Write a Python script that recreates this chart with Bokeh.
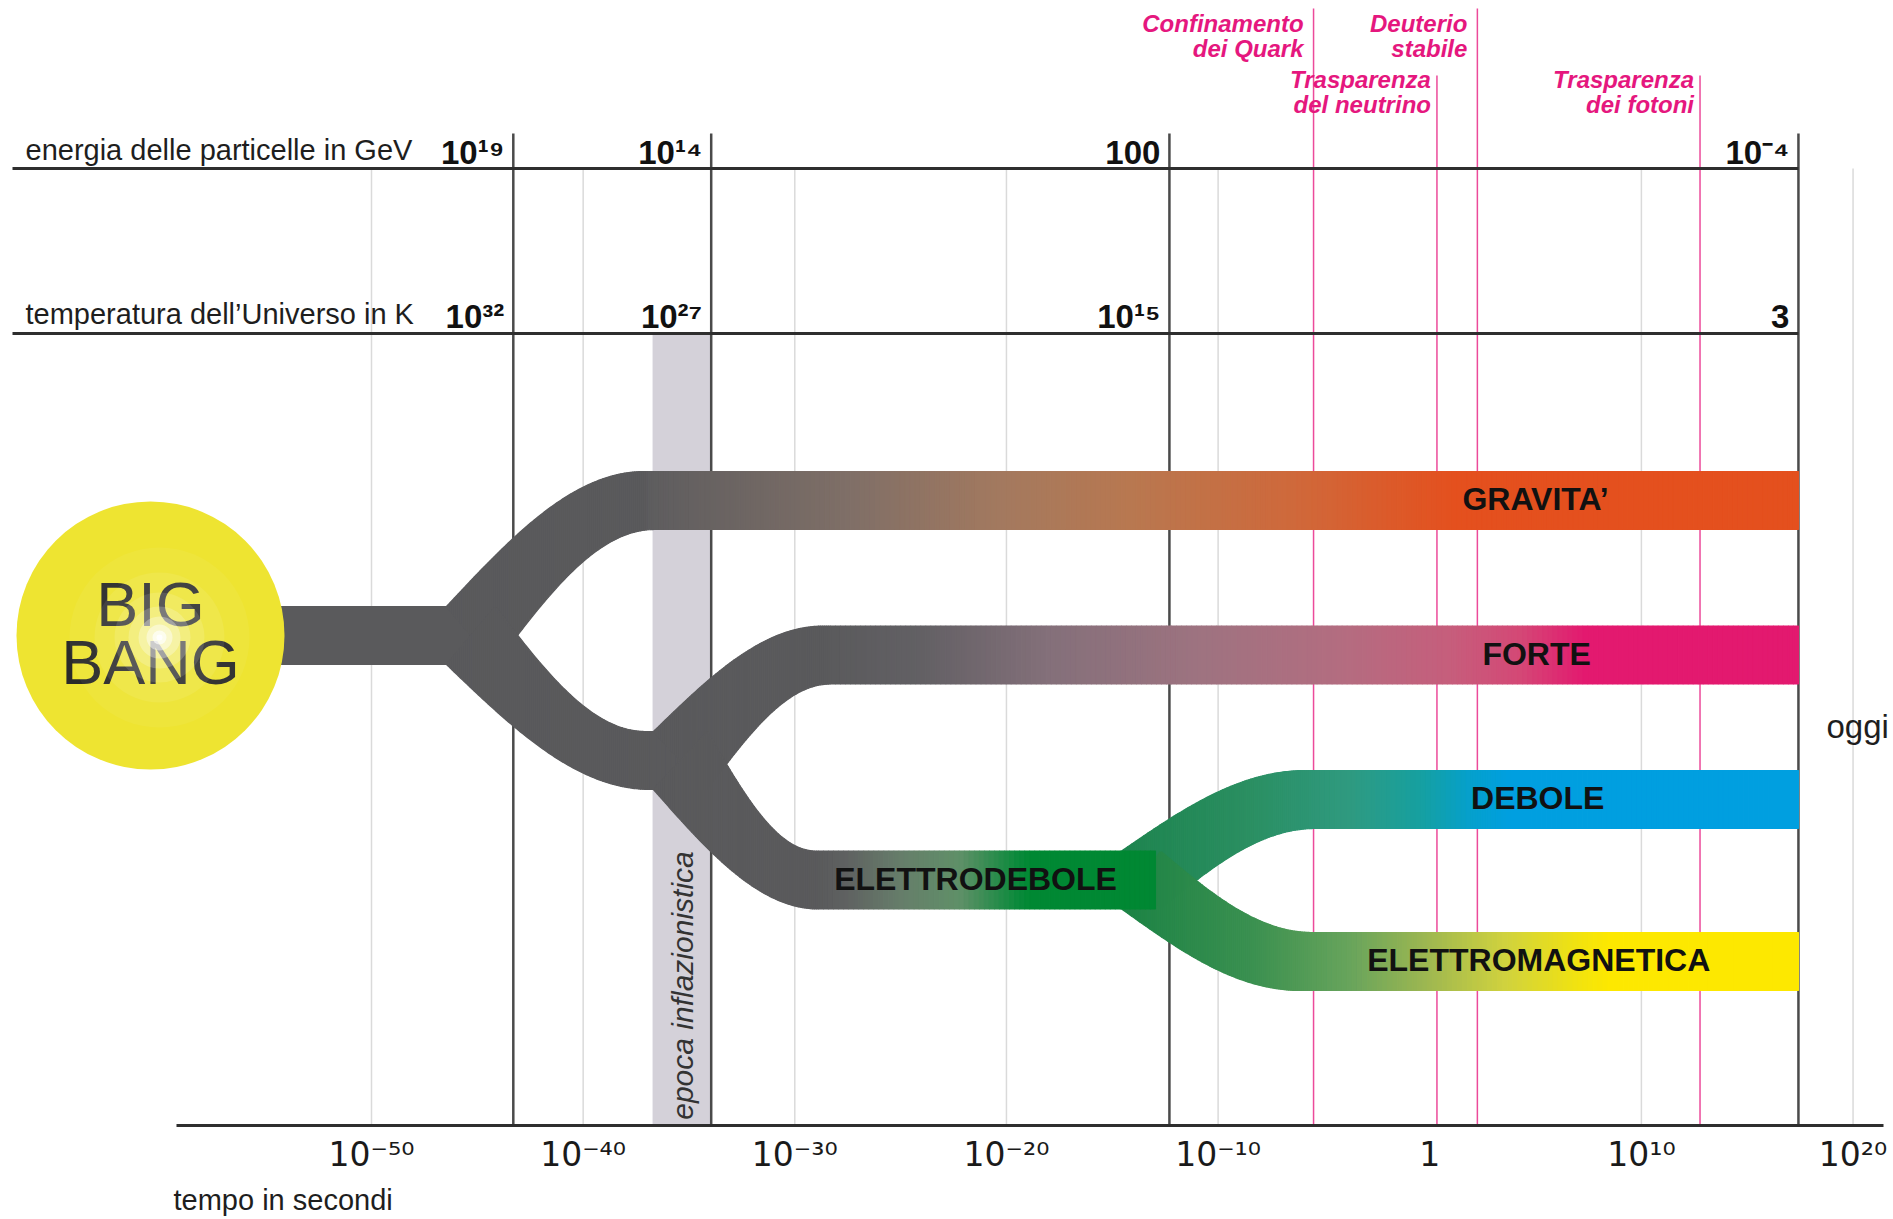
import numpy as np
from bokeh.plotting import figure
from bokeh.models import Range1d, FixedTicker, Title
from bokeh.core.properties import value
from bokeh.embed import file_html
from bokeh.resources import INLINE

FONT = "Liberation Sans"
AXFONT = "DejaVu Sans"

# ---------------- data (time as log10 of seconds) ----------------
tick_lt = [-50, -40, -30, -20, -10, 0, 10, 20]
tick_labels = ["10⁻⁵⁰", "10⁻⁴⁰", "10⁻³⁰", "10⁻²⁰", "10⁻¹⁰", "1", "10¹⁰", "10²⁰"]
grid_lt = [-50, -40, -30, -20, -10, 10, 20]

epoch_lt = [-43.3, -33.95, -12.3, 17.42]          # Planck, fine inflazione, elettrodebole, oggi
energy_gev = ["10¹⁹", "10¹⁴", "100", "10⁻⁴"]
temperature_k = ["10³²", "10²⁷", "10¹⁵", "3"]

inflation_start, inflation_end = -36.72, -33.95

event_lt = [-5.49, 0.34, 2.25, 12.77]
event_title = ["Confinamento", "Trasparenza", "Deuterio", "Trasparenza"]
event_sub = ["dei Quark", "del neutrino", "stabile", "dei fotoni"]
event_row = [0, 1, 0, 1]

# forces tree (times in log10 s): outer edge leaves parent, inner edge leaves parent,
# outer edge settles, inner edge settles, end
force_names = ["gravita", "lower", "forte", "debole", "elettromagnetica", "elettrodebole"]
force_parent = ["trunk", "trunk", "lower", "elettrodebole", "elettrodebole", "lower"]
depart_outer = [-46.46, -46.46, -36.68, -14.56, -14.56, -36.68]
depart_inner = [-44.14, -44.14, -34.12, -12.72, -12.72, -34.12]
settle_outer = [-37.10, -36.82, -28.64, -5.87, -6.11, -28.88]
settle_inner = [-36.63, -37.05, -28.31, -5.40, -5.54, -29.02]
force_end = [17.42, -34.12, 17.42, 17.42, 17.42, -12.96]
force_label = ["GRAVITA’", None, "FORTE", "DEBOLE", "ELETTROMAGNETICA", "ELETTRODEBOLE"]
force_label_lt = [5.0, None, 5.05, 5.1, 5.15, -21.46]
trunk_start, trunk_end = -60.44, -44.14

GREY = "#5a5a5c"
force_stops = {
    "lower": [(-70, GREY)],
    "gravita": [(-37.1, GREY), (-36.82, "#5e5d5f"), (-27.37, "#7f6f67"), (-20.28, "#a3795f"),
                (-14.14, "#b87850"), (-6.11, "#d0683a"), (1.17, "#e4501e")],
    "forte": [(-28.64, GREY), (-24.06, "#626064"), (-17.92, "#84707a"), (-10.83, "#9e7380"),
              (-4.22, "#b36d80"), (0.98, "#c65e7c"), (4.29, "#d44876"), (7.36, "#e3196f")],
    "debole": [(-14.14, "#1f8550"), (-8.47, "#2b8f62"), (-3.74, "#2f9a80"), (-0.44, "#16a0a0"),
               (1.93, "#05a0cc"), (3.82, "#009fe0")],
    "elettromagnetica": [(-14.14, "#1e8446"), (-8.47, "#3a9050"), (-3.74, "#68a45c"), (0.04, "#a0b850"),
                         (3.58, "#d0d23e"), (7.12, "#f2e30f"), (8.54, "#fde800")],
    "elettrodebole": [(-28.88, GREY), (-27.6, "#5f6161"), (-25.01, "#667d6a"), (-22.17, "#5f9068"),
                      (-19.48, "#0c8a3c"), (-18.86, "#008833")],
}

# ---------------- layout (page pixels) ----------------
FW, FH = 1890, 1125
SX = 21.165                       # px per decade
X0 = -50 - 371 / SX
X1 = X0 + FW / SX
Y_TOP, Y_AXIS = 0, 1125
Y_ENERGY, Y_TEMP = 168, 333
lane = {"trunk": 635, "gravita": 500, "lower": 760, "forte": 654.5,
        "elettrodebole": 879.5, "debole": 799, "elettromagnetica": 961}
H = 29.0


def px_of(lt):
    return (np.asarray(lt, dtype=float) - X0) * SX


def lt_of(px):
    return X0 + np.asarray(px, dtype=float) / SX


def hex2rgb(h):
    return np.array([int(h[1:3], 16), int(h[3:5], 16), int(h[5:7], 16)], dtype=float)


def grad_color(stops, lt):
    xs = [s[0] for s in stops]
    cs = np.array([hex2rgb(s[1]) for s in stops])
    rgb = [np.interp(lt, xs, cs[:, k]) for k in range(3)]
    return "#%02x%02x%02x" % tuple(int(round(v)) for v in rgb)


def ease(x, x0, x1, y0, y1):
    t = np.clip((x - x0) / (x1 - x0), 0, 1)
    return y0 + (y1 - y0) * np.sin(np.pi / 2 * t)


p = figure(frame_width=FW, frame_height=FH,
           x_range=Range1d(X0, X1), y_range=Range1d(Y_AXIS, Y_TOP),
           output_backend="svg", toolbar_location=None, y_axis_location=None,
           min_border=0, min_border_left=0, min_border_right=0, min_border_top=0,
           min_border_bottom=0, outline_line_color=None,
           background_fill_color="white", border_fill_color="white")
p.grid.visible = False

# grey inflation band
p.quad(left=[inflation_start], right=[inflation_end], top=[Y_TEMP], bottom=[Y_AXIS],
       fill_color="#d4d1d9", line_color=None)

# light grid lines
p.segment(x0=grid_lt, x1=grid_lt, y0=[Y_ENERGY] * len(grid_lt), y1=[Y_AXIS] * len(grid_lt),
          line_color="#dadada", line_width=1.5)

# pink event lines
ev_top = [8 if r == 0 else 75 for r in event_row]
p.segment(x0=event_lt, x1=event_lt, y0=ev_top, y1=[Y_AXIS] * len(event_lt),
          line_color="#ec4a9a", line_width=1.5)

# dark epoch lines
p.segment(x0=epoch_lt, x1=epoch_lt, y0=[133] * len(epoch_lt), y1=[Y_AXIS] * len(epoch_lt),
          line_color="#4a4a4a", line_width=2.5)

# horizontal header lines
x_line0 = float(lt_of(12))
p.segment(x0=[x_line0, x_line0], x1=[epoch_lt[-1]] * 2, y0=[Y_ENERGY, Y_TEMP], y1=[Y_ENERGY, Y_TEMP],
          line_color="#2e2e2e", line_width=3)

# ---------------- streams ----------------
# trunk from the Big Bang
p.quad(left=[trunk_start], right=[trunk_end], top=[lane["trunk"] - H], bottom=[lane["trunk"] + H],
       fill_color=GREY, line_color=GREY, line_width=1)

qx, qy, qc = [], [], []
for i, name in enumerate(force_names):
    par = force_parent[i]
    yp, yc = lane[par], lane[name]
    up = yc < yp
    sgn = -1 if up else 1                       # outer side
    y_out0, y_out1 = yp + sgn * H, yc + sgn * H
    y_in0, y_in1 = yp - sgn * H, yc - sgn * H
    xo0, xi0 = float(px_of(depart_outer[i])), float(px_of(depart_inner[i]))
    xo1, xi1 = float(px_of(settle_outer[i])), float(px_of(settle_inner[i]))
    xe = float(px_of(force_end[i]))
    xc = max(xo1, xi1)
    xs_curve = np.linspace(xo0, min(xc, xe), max(2, int((min(xc, xe) - xo0) / 2) + 1))
    xs = list(xs_curve)
    if xe > xc:
        xs += list(np.linspace(xc, xe, max(2, int((xe - xc) / 5) + 1))[1:])
    xs = np.array(xs)
    yo = ease(xs, xo0, xo1, y_out0, y_out1)
    yi = np.where(xs < xi0,
                  y_out0 + (y_in0 - y_out0) * (xs - xo0) / (xi0 - xo0),
                  ease(xs, xi0, xi1, y_in0, y_in1))
    stops = force_stops[name]
    for k in range(len(xs) - 1):
        lx = list(lt_of([xs[k], xs[k + 1], xs[k + 1], xs[k]]))
        qx.append(lx)
        qy.append([yo[k], yo[k + 1], yi[k + 1], yi[k]])
        qc.append(grad_color(stops, float(lt_of(0.5 * (xs[k] + xs[k + 1])))))

p.patches(xs=qx, ys=qy, fill_color=qc, line_color=qc, line_width=1.2)

# ---------------- Big Bang ----------------
bb_lt = float(lt_of(150))
p.scatter(x=[bb_lt], y=[635], size=268, marker="circle", fill_color="#eee431", line_color=None)
p.text(x=[bb_lt, bb_lt], y=[603, 661], text=["BIG", "BANG"], text_font=value(FONT),
       text_font_size="63px", text_align="center", text_baseline="middle", text_color="#2a2a2a")
glow_lt = float(lt_of(159))
for sz, al in [(180, 0.05), (130, 0.08), (90, 0.12), (62, 0.2), (42, 0.3), (26, 0.45),
               (14, 0.65), (6, 0.9)]:
    p.scatter(x=[glow_lt], y=[637], size=sz, marker="circle", fill_color="white",
              fill_alpha=al, line_color=None)

# ---------------- force labels ----------------
lab_txt = [l for l in force_label if l]
lab_x = [x for l, x in zip(force_label, force_label_lt) if l]
lab_y = [lane[n] - 1.5 for l, n in zip(force_label, force_names) if l]
p.text(x=lab_x, y=lab_y, text=lab_txt, text_font=value(FONT), text_font_size="32px",
       text_font_style="bold", text_align="center", text_baseline="middle", text_color="#111111")

# inflation label
p.text(x=[float(lt_of(682))], y=[985], text=["epoca inflazionistica"],
       angle=np.pi / 2, text_font=value(FONT), text_font_size="30px", text_font_style="italic",
       text_align="center", text_baseline="middle", text_color="#333333")

# ---------------- header ----------------
hx = float(lt_of(25))
p.text(x=[hx, hx], y=[149, 313],
       text=["energia delle particelle in GeV", "temperatura dell’Universo in K"],
       text_font=value(FONT), text_font_size="29px", text_align="left",
       text_baseline="middle", text_color="#1e1e1e")
p.text(x=epoch_lt, y=[151.5] * 4, text=energy_gev, text_font=value(FONT), text_font_size="33px",
       text_font_style="bold", text_align="right", text_baseline="middle",
       text_color="#111111", x_offset=-9)
p.text(x=epoch_lt, y=[315.5] * 4, text=temperature_k, text_font=value(FONT), text_font_size="33px",
       text_font_style="bold", text_align="right", text_baseline="middle",
       text_color="#111111", x_offset=-9)

# event labels
for row, mid, off in [(0, 22.6, -10), (1, 78.6, -6)]:
    xs = [x for x, r in zip(event_lt, event_row) if r == row]
    t1 = [t for t, r in zip(event_title, event_row) if r == row]
    t2 = [t for t, r in zip(event_sub, event_row) if r == row]
    p.text(x=xs + xs, y=[mid] * len(xs) + [mid + 25.5] * len(xs), text=t1 + t2,
           text_font=value(FONT), text_font_size="24px", text_font_style="bold italic",
           text_align="right", text_baseline="middle", text_color="#e5177e", x_offset=off)

# oggi
p.text(x=[float(lt_of(1826))], y=[725.5], text=["oggi"], text_font=value(FONT), text_font_size="33px",
       text_align="left", text_baseline="middle", text_color="#1e1e1e")

# ---------------- bottom axis ----------------
ax = p.xaxis[0]
ax.ticker = FixedTicker(ticks=tick_lt)
ax.major_label_overrides = {t: l for t, l in zip(tick_lt, tick_labels)}
ax.bounds = (float(lt_of(176)), float(lt_of(1883)))
ax.axis_line_width = 3
ax.axis_line_color = "#2e2e2e"
ax.major_tick_line_color = None
ax.minor_tick_line_color = None
ax.major_tick_out = 0
ax.major_tick_in = 0
ax.major_label_standoff = 9
ax.major_label_text_font = AXFONT
ax.major_label_text_font_size = "33px"
ax.major_label_text_color = "#1a1a1a"

p.add_layout(Title(text="tempo in secondi", align="left", offset=173, text_font=FONT,
                   text_font_size="29px", text_font_style="normal", text_color="#1e1e1e",
                   standoff=11), "below")

open("out.html", "w").write(file_html(p, INLINE))
